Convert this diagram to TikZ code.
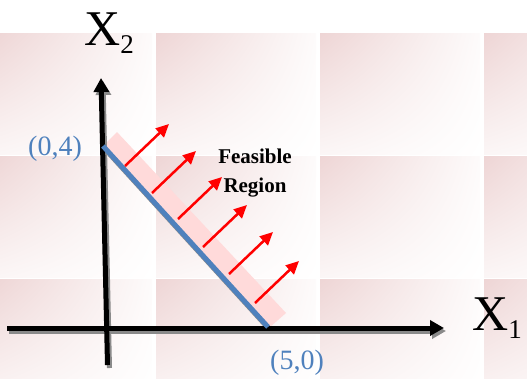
\documentclass[tikz,border=0pt]{standalone}
\usepackage{fontspec}
\setmainfont{Liberation Serif}
\usetikzlibrary{arrows.meta, calc, shadings}
\definecolor{cblue}{HTML}{4F81BD}
\definecolor{cband}{HTML}{FFDADA}
\definecolor{ctile}{HTML}{EED5D5}
\definecolor{cshade}{HTML}{8A8A8A}
\tikzset{
  every picture/.style={x=1pt, y=1pt},
  tile/.style={upper left=ctile, upper right=ctile!10, lower left=ctile!22, lower right=white},
  axis/.style={-{Triangle[length=14pt, width=15pt]}, line width=5pt, draw=#1},
  axis/.default=black,
  bound/.style={line width=5pt, draw=#1},
  bound/.default=cblue,
  push/.style={-{Triangle[length=13pt, width=12pt]}, draw=red, line width=2.5pt},
  corner/.style={font=\fontsize{28}{30}\selectfont, text=cblue, inner sep=0pt, anchor=base},
  axlabel/.style={font=\fontsize{50}{55}\selectfont, inner sep=0pt, anchor=base west},
}
\newcommand{\axsub}[1]{\raisebox{-8pt}{\fontsize{27}{27}\selectfont #1}}

\begin{document}
\begin{tikzpicture}
  \useasboundingbox (0,-378) rectangle (527,0);
  \clip (0,-378) rectangle (527,0);
  % background tiles
  \foreach \c in {-8,156,320,484}
    \foreach \r in {33,156,279}
      \shade[tile] (\c,-\r) rectangle ++(160,-121);

  \coordinate (p04) at (103,-146);
  \coordinate (p50) at (268,-327);
  \fill[cband] (p04) -- ++(14,14) -- ($(p50)+(18,14)$) -- ($(p50)+(2,0)$) -- cycle;

  % axes, each with its shadow
  \coordinate (xl) at (7,-328);   \coordinate (xr) at (444,-328);
  \coordinate (yb) at (107.5,-365); \coordinate (yt) at (101,-78);
  \begin{scope}[transform canvas={shift={(2pt,-3pt)}}]
    \draw[axis=cshade] (xl) -- (xr);
    \draw[axis=cshade] (yb) -- (yt);
    \draw[bound=cshade] (p04) -- (p50);
  \end{scope}
  \draw[axis] (xl) -- (xr);
  \draw[axis] (yb) -- (yt);
  \draw[bound] (p04) -- (p50);

  \foreach \i/\x/\y in {1/125/166, 2/152/193, 3/178/219, 4/203/247, 5/229/274, 6/255/303} {
    \path (\x,-\y) coordinate (f\i) ++(44,42) coordinate (t\i);
    \draw[push] (f\i) -- (t\i);
  }

  \node[corner] (l04) at (55,-155) {(0,4)};
  \node[corner] (l50) at (297,-369) {(5,0)};
  \node[axlabel] (lx2) at (84,-45) {X\axsub{2}};
  \node[axlabel] (lx1) at (472,-330) {X\axsub{1}};
  \node[font=\fontsize{21}{29}\selectfont\bfseries, align=center, inner sep=0pt, anchor=north] (feas) at (255,-148.5) {Feasible\\Region};
\end{tikzpicture}
\end{document}
